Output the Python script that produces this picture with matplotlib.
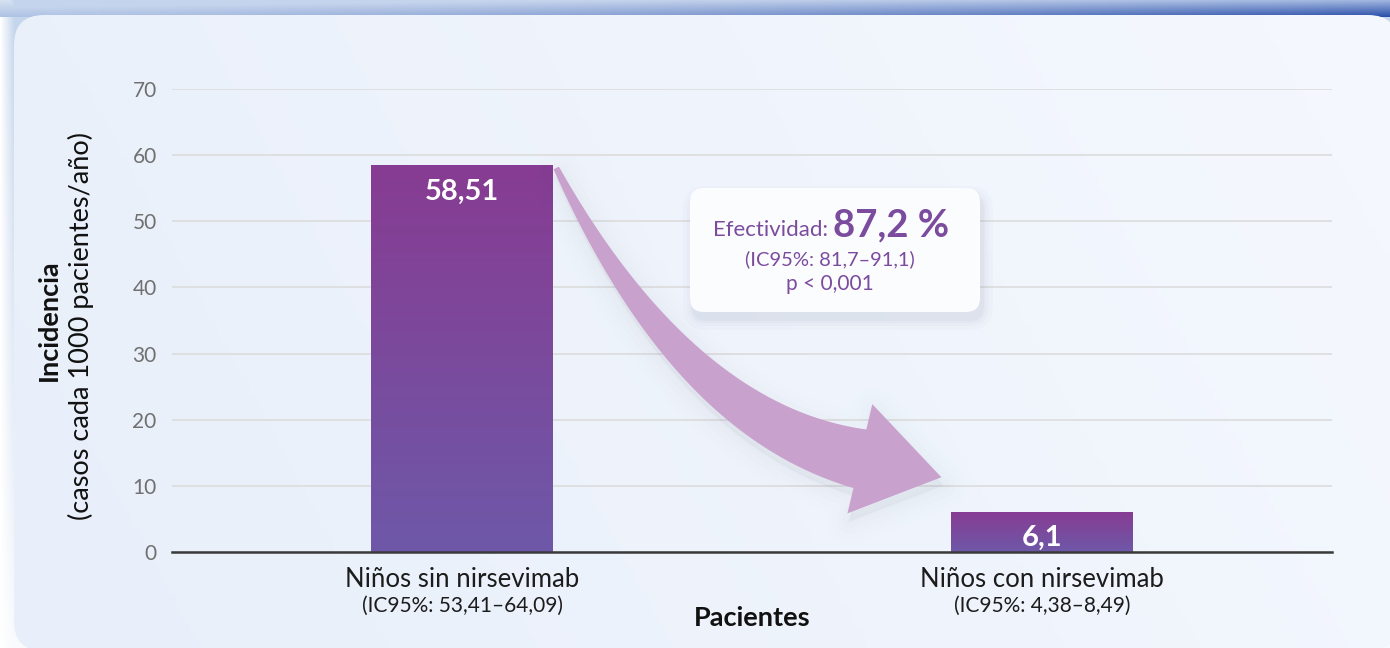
import numpy as np
import matplotlib.pyplot as plt
from matplotlib.patches import FancyBboxPatch, Polygon
from matplotlib.colors import to_rgb, LinearSegmentedColormap

plt.rcParams["font.family"] = ["Lato", "DejaVu Sans"]

# datos
categorias = ["Niños sin nirsevimab", "Niños con nirsevimab"]
ic95 = ["(IC95%: 53,41–64,09)", "(IC95%: 4,38–8,49)"]
incidencia = [58.51, 6.1]
etiquetas = ["58,51", "6,1"]
yticks = [0, 10, 20, 30, 40, 50, 60, 70]
efectividad = "87,2 %"
efectividad_ic = "(IC95%: 81,7–91,1)"
p_valor = "p < 0,001"

W, H = 1390, 648
fig = plt.figure(figsize=(W / 100, H / 100), dpi=100)

# fondo con franja azul arriba
bg = fig.add_axes([0, 0, 1, 1], zorder=0)
bg.set_xlim(0, W)
bg.set_ylim(0, H)
bg.axis("off")

yy, xx = np.mgrid[0:H, 0:W].astype(float)
t = (xx / W) ** 1.4
v = np.clip(yy / 16, 0, 1)
light = np.array(to_rgb("#d6e1f2"))[None, None] * (1 - t)[..., None] + np.array(to_rgb("#9fb5df"))[None, None] * t[..., None]
dark = np.array(to_rgb("#afc3e5"))[None, None] * (1 - t)[..., None] + np.array(to_rgb("#2b4fa9"))[None, None] * t[..., None]
top_col = light * (1 - v)[..., None] + dark * v[..., None]
a = np.clip(xx / 14, 0, 1) * (1 - 0.9 * yy / H)
left_col = 1 - a[..., None] * (1 - np.array(to_rgb("#c3d4ec"))[None, None])
img = np.where((yy < 17)[..., None], np.minimum(top_col, left_col), left_col)
bg.imshow(img, extent=(0, W, 0, H), origin="upper", aspect="auto", zorder=0)

panel = FancyBboxPatch((14, -3), W + 8 - 14, H - 15 + 3,
                       boxstyle="round,pad=0,rounding_size=30",
                       fc="none", ec="none", zorder=1)
bg.add_patch(panel)
pg = np.linspace(0, 1, 300)[None, :] * 0.8 + np.linspace(0, 1, 100)[:, None] * 0.2
pcmap = LinearSegmentedColormap.from_list("panel", ["#e8effa", "#f5f8fe"])
im = bg.imshow(pg, extent=(0, W, H, 0), origin="upper", cmap=pcmap, aspect="auto", zorder=1)
im.set_clip_path(panel)
bg.set_xlim(0, W)
bg.set_ylim(0, H)

# grafico principal
ax = fig.add_axes([172 / W, 96 / H, 1160 / W, 463 / H], zorder=2)
ax.patch.set_alpha(0)
x = np.arange(len(categorias))
bw = 0.313
bars = ax.bar(x, incidencia, width=bw, color="none", zorder=3)
bcmap = LinearSegmentedColormap.from_list("bar", ["#6e58a8", "#873c92"])
grad = np.linspace(0, 1, 256)[:, None]
for b in bars:
    g = ax.imshow(grad, extent=(b.get_x(), b.get_x() + b.get_width(), 0, b.get_height()),
                  origin="lower", cmap=bcmap, aspect="auto", zorder=3)
    g.set_clip_path(b)

ax.set_xlim(-0.5, 1.5)
ax.set_ylim(0, 70)
ax.set_yticks(yticks)
ax.set_xticks([])
ax.yaxis.grid(True, color="#dcdcdc", lw=1.2)
ax.set_axisbelow(True)
for s in ["top", "right", "left"]:
    ax.spines[s].set_visible(False)
ax.spines["bottom"].set_color("#3a3a3a")
ax.spines["bottom"].set_linewidth(1.8)
ax.spines["bottom"].set_zorder(5)
ax.tick_params(axis="y", length=0, pad=11, labelsize=15, labelcolor="#707070")

for xi, cat, ic in zip(x, categorias, ic95):
    ax.annotate(cat, (xi, 0), xytext=(0, -20), textcoords="offset points",
                ha="center", va="center", fontsize=18.5, color="#1c1c1c")
    ax.annotate(ic, (xi, 0), xytext=(0, -39), textcoords="offset points",
                ha="center", va="center", fontsize=15, color="#1c1c1c")
ax.annotate("Pacientes", (0.5, 0), xycoords="axes fraction", xytext=(0, -47.5),
            textcoords="offset points", ha="center", va="center",
            fontsize=19.5, fontweight="bold", color="#111111")

for xi, val, lbl in zip(x, incidencia, etiquetas):
    ax.annotate(lbl, (xi, val), xytext=(0, -19), textcoords="offset points",
                ha="center", va="center", fontsize=21, fontweight="bold",
                color="white", zorder=6)

fig.text(49 / W, 1 - 320 / H, "Incidencia", rotation=90, ha="center", va="center",
         fontsize=19.5, fontweight="bold", color="#111111")
fig.text(81 / W, 1 - 326 / H, "(casos cada 1000 pacientes/año)", rotation=90,
         ha="center", va="center", fontsize=19.5, color="#111111")

# capa superior: flecha y recuadro
ov = fig.add_axes([0, 0, 1, 1], zorder=5)
ov.patch.set_alpha(0)
ov.set_xlim(0, W)
ov.set_ylim(0, H)
ov.axis("off")

p0 = ax.transData.transform((x[0] + bw / 2 + 0.006, incidencia[0] - 0.45))
pc = ax.transData.transform((0.38, 20.0))
p2 = ax.transData.transform((0.686, 14.1))
tip = ax.transData.transform((x[1] - bw / 2 - 0.017, incidencia[1] + 5.2))

ts = np.linspace(0, 1, 80)[:, None]
curve = (1 - ts) ** 2 * p0 + 2 * (1 - ts) * ts * pc + ts ** 2 * p2
deriv = 2 * (1 - ts) * (pc - p0) + 2 * ts * (p2 - pc)
nrm = np.column_stack([-deriv[:, 1], deriv[:, 0]])
nrm /= np.linalg.norm(nrm, axis=1, keepdims=True)
wid = (6 + 54 * ts) / 2
side_a = curve + nrm * wid
side_b = curve - nrm * wid
d = (tip - p2) / np.linalg.norm(tip - p2)
nh = np.array([-d[1], d[0]])
wing_a = p2 + nh * 56
wing_b = p2 - nh * 56
if np.dot(nh, nrm[-1]) < 0:
    wing_a, wing_b = wing_b, wing_a
pts = np.vstack([side_a, wing_a, tip, wing_b, side_b[::-1]])

# sombra difusa de la flecha
for lw, al in [(34, 0.008), (26, 0.009), (18, 0.010), (10, 0.011), (3, 0.012)]:
    ov.add_patch(Polygon(pts + np.array([2, -8]), closed=True, fc="#6f7a95",
                         ec="#6f7a95", lw=lw, alpha=al, joinstyle="round", zorder=1))
ov.add_patch(Polygon(pts, closed=True, fc="#c9a1cd", ec="none", zorder=2))

bx, by, bwid, bh = 690, H - 312, 290, 124
for pad, al in [(10, 0.03), (6, 0.04), (3, 0.05), (1, 0.06)]:
    ov.add_patch(FancyBboxPatch((bx + 3 - pad, by - 8 - pad), bwid + 2 * pad, bh + 2 * pad,
                                boxstyle=f"round,pad=0,rounding_size={14 + pad}",
                                fc="#8792a8", ec="none", alpha=al, zorder=3))
ov.add_patch(FancyBboxPatch((bx, by), bwid, bh, boxstyle="round,pad=0,rounding_size=14",
                            fc="#fbfcfe", ec="none", zorder=4))

morado = "#7b4b9e"
ov.text(828, H - 236, "Efectividad:", ha="right", va="baseline", fontsize=16,
        color=morado, zorder=5)
ov.text(833, H - 236, efectividad, ha="left", va="baseline", fontsize=27.5,
        fontweight="bold", color=morado, zorder=5)
ov.text(830, H - 259, efectividad_ic, ha="center", va="center", fontsize=14.5,
        color=morado, zorder=5)
ov.text(830, H - 284, p_valor, ha="center", va="center", fontsize=15,
        color=morado, zorder=5)

fig.savefig("out.png", dpi=100)
